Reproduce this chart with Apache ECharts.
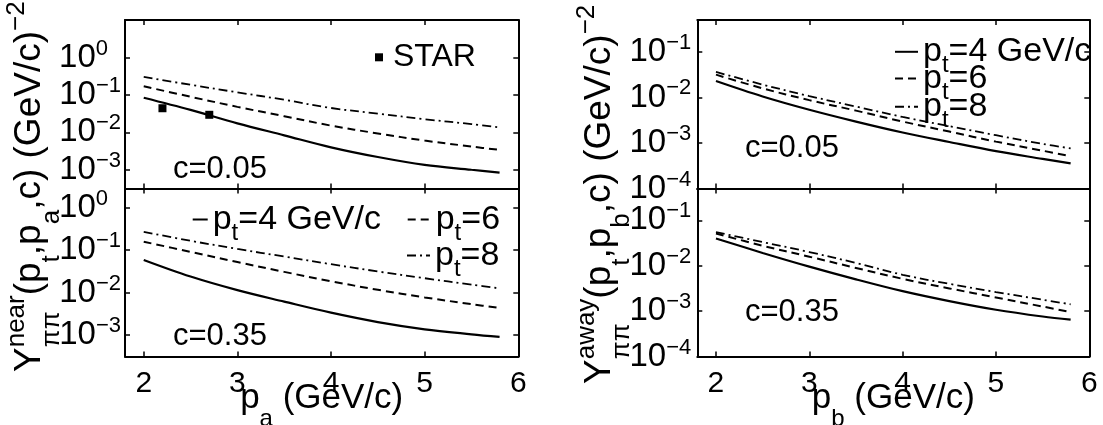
<!DOCTYPE html>
<html>
<head>
<meta charset="utf-8">
<script src="https://cdn.jsdelivr.net/npm/echarts@6/dist/echarts.min.js"></script>
<style>
  html, body { margin: 0; padding: 0; background: #fff; }
  #chart { width: 1103px; height: 425px; }
</style>
</head>
<body>
<div id="chart"></div>
<script>
const FONT = '"Liberation Sans", Arial, Helvetica, sans-serif';

// momentum of the associated particle (GeV/c)
const pX = [2, 2.5, 3, 3.5, 4, 4.5, 5, 5.5, 5.8];

// near side yields, c = 0.05
const nearC05Pt4 = [0.0841, 0.0398, 0.0174, 0.00832, 0.00398, 0.00219, 0.00135, 0.00100, 0.000841];
const nearC05Pt6 = [0.170, 0.0891, 0.0479, 0.0269, 0.0151, 0.00933, 0.00603, 0.00417, 0.00339];
const nearC05Pt8 = [0.302, 0.186, 0.117, 0.0741, 0.0447, 0.0316, 0.0224, 0.0166, 0.0135];
// near side yields, c = 0.35
const nearC35Pt4 = [0.0589, 0.0240, 0.0115, 0.00617, 0.00339, 0.00204, 0.00138, 0.00105, 0.000912];
const nearC35Pt6 = [0.158, 0.0912, 0.0525, 0.0309, 0.0186, 0.0117, 0.00776, 0.00537, 0.00437];
const nearC35Pt8 = [0.269, 0.166, 0.107, 0.0708, 0.0468, 0.0316, 0.0219, 0.0155, 0.0126];
// away side yields, c = 0.05
const awayC05Pt4 = [0.0229, 0.0105, 0.00537, 0.00295, 0.00170, 0.00105, 0.000661, 0.000447, 0.000355];
const awayC05Pt6 = [0.0316, 0.0158, 0.00871, 0.00513, 0.00295, 0.00178, 0.00107, 0.000676, 0.000513];
const awayC05Pt8 = [0.0363, 0.0191, 0.0107, 0.00631, 0.00372, 0.00234, 0.00148, 0.000955, 0.000759];
// away side yields, c = 0.35
const awayC35Pt4 = [0.0398, 0.0191, 0.00955, 0.00501, 0.00275, 0.00166, 0.00107, 0.000759, 0.000646];
const awayC35Pt6 = [0.0513, 0.0275, 0.0158, 0.00891, 0.00513, 0.00316, 0.00200, 0.00126, 0.000955];
const awayC35Pt8 = [0.0550, 0.0331, 0.0200, 0.0115, 0.00631, 0.00398, 0.00263, 0.00178, 0.00141];

// STAR data points (near side, c = 0.05)
const starX = [2.2, 2.7];
const starY = [0.044, 0.0294];

// tick labels
const xTickLabels = [2, 3, 4, 5, 6];
const nearExp = [-3, -2, -1, 0];
const awayExp = [-4, -3, -2, -1];

const curveNames = ['pt4', 'pt6', 'pt8'];
const curveStyles = {
  pt4: { type: 'solid', width: 2.2 },
  pt6: { type: [8, 5], width: 2 },
  pt8: { type: [9, 4, 2, 4], width: 1.8 }
};

const panels = [
  { left: 125, top: 20, width: 393.3, height: 168.5, yMin: -3.5, yMax: 1, exps: nearExp, curves: [nearC05Pt4, nearC05Pt6, nearC05Pt8], xLabels: false, c: 'c=0.05', cx: 173, cy: 169 },
  { left: 125, top: 188.5, width: 393.3, height: 168, yMin: -3.5, yMax: 0.45, exps: nearExp, curves: [nearC35Pt4, nearC35Pt6, nearC35Pt8], xLabels: true, c: 'c=0.35', cx: 173, cy: 336 },
  { left: 697.3, top: 20, width: 392, height: 168.5, yMin: -4, yMax: -0.3, exps: awayExp, curves: [awayC05Pt4, awayC05Pt6, awayC05Pt8], xLabels: false, c: 'c=0.05', cx: 745, cy: 148.5 },
  { left: 697.3, top: 188.5, width: 392, height: 168, yMin: -4, yMax: -0.3, exps: awayExp, curves: [awayC35Pt4, awayC35Pt6, awayC35Pt8], xLabels: true, c: 'c=0.35', cx: 745, cy: 312.5 }
];

// exponent 0 gets right padding so the "10" parts line up
const tickRich = {
  b: { fontSize: 33, fontFamily: FONT, color: '#000', lineHeight: 36 },
  s: { fontSize: 22, fontFamily: FONT, color: '#000', lineHeight: 36, padding: [0, 0, 18, 0] },
  z: { fontSize: 22, fontFamily: FONT, color: '#000', lineHeight: 36, padding: [0, 13, 18, 0] }
};

function yFmt(exps) {
  return function (v) {
    const e = Math.log10(v);
    const r = Math.round(e);
    if (Math.abs(e - r) > 1e-6 || exps.indexOf(r) < 0) return '';
    return r < 0 ? '{b|10}{s|\u2212' + (-r) + '}' : '{b|10}{z|' + r + '}';
  };
}

const tick = { show: true, inside: true, length: 5, lineStyle: { color: '#000', width: 1.5 } };
const line = { show: true, onZero: false, lineStyle: { color: '#000', width: 2 } };

const grids = [], xAxes = [], yAxes = [], series = [];
panels.forEach(function (p, i) {
  grids.push({ left: p.left, top: p.top, width: p.width, height: p.height, containLabel: false, outerBoundsMode: 'none' });
  ['bottom', 'top'].forEach(function (pos, k) {
    xAxes.push({
      type: 'value', gridIndex: i, position: pos, min: 1.8, max: 6,
      axisLine: line, axisTick: tick, splitLine: { show: false },
      axisLabel: {
        show: k === 0 && p.xLabels, margin: 12, fontSize: 30, fontFamily: FONT, color: '#000',
        formatter: function (v) { return xTickLabels.indexOf(v) >= 0 ? String(v) : ''; }
      }
    });
  });
  ['left', 'right'].forEach(function (pos, k) {
    yAxes.push({
      type: 'log', logBase: 10, gridIndex: i, position: pos,
      min: Math.pow(10, p.yMin), max: Math.pow(10, p.yMax),
      axisLine: line, axisTick: tick, splitLine: { show: false }, minorTick: { show: false },
      axisLabel: {
        show: k === 0, margin: i < 2 ? 4 : 6, showMinLabel: true, showMaxLabel: true,
        formatter: yFmt(p.exps), rich: tickRich
      }
    });
  });
  p.curves.forEach(function (ys, j) {
    const nm = curveNames[j];
    series.push({
      type: 'line', name: nm, xAxisIndex: 2 * i, yAxisIndex: 2 * i,
      data: pX.map(function (x, n) { return [x, ys[n]]; }),
      symbol: 'none', smooth: 0.35, silent: true,
      lineStyle: { color: '#000', width: curveStyles[nm].width, type: curveStyles[nm].type },
      itemStyle: { color: '#000' }
    });
  });
});

series.push({
  type: 'scatter', name: 'STAR', xAxisIndex: 0, yAxisIndex: 0,
  data: starX.map(function (x, n) { return [x, starY[n]]; }),
  symbol: 'rect', symbolSize: 8, itemStyle: { color: '#000', opacity: 1 }, silent: true, z: 5
});

const legendRich = {
  b: { fontSize: 34, fontFamily: FONT, color: '#000', lineHeight: 34 },
  s: { fontSize: 24, fontFamily: FONT, color: '#000', lineHeight: 34, padding: [27, 0, 0, 0] },
  st: { fontSize: 32, fontFamily: FONT, color: '#000', lineHeight: 32, padding: [0, 0, 0, 5] }
};
const legendText = {
  pt4: '{b|p}{s|t}{b|=4 GeV/c}',
  pt6: '{b|p}{s|t}{b|=6}',
  pt8: '{b|p}{s|t}{b|=8}',
  STAR: '{st|STAR}'
};
function legendAt(name, left, top, w) {
  return {
    data: [name], left: left, top: top, padding: 0, selectedMode: false,
    itemWidth: w, itemHeight: name === 'STAR' ? 8 : 14,
    icon: name === 'STAR' ? 'rect' : undefined,
    itemStyle: name === 'STAR' ? { color: '#000', opacity: 1 } : { opacity: 0 },
    formatter: function (n) { return legendText[n]; },
    textStyle: { rich: legendRich }
  };
}
const legends = [
  legendAt('STAR', 375, 41.3, 8),
  legendAt('pt4', 191.7, 194, 15),
  legendAt('pt6', 406.7, 194, 23),
  legendAt('pt8', 406, 230, 23),
  legendAt('pt4', 894, 26.3, 23),
  legendAt('pt6', 894, 53, 23),
  legendAt('pt8', 894, 81.3, 23)
];

const titleRich = {
  b: { fontSize: 37, fontFamily: FONT, fill: '#000', lineHeight: 42 },
  sp: { fontSize: 26, fontFamily: FONT, fill: '#000', lineHeight: 42, padding: [0, 0, 25, 0] },
  sb: { fontSize: 26, fontFamily: FONT, fill: '#000', lineHeight: 42, padding: [44, 0, 0, 0] }
};
const xTitleRich = {
  b: { fontSize: 35, fontFamily: FONT, fill: '#000', lineHeight: 40 },
  sb: { fontSize: 24, fontFamily: FONT, fill: '#000', lineHeight: 40, padding: [42, 0, 0, 0] }
};
function yTitle(x, y, side) {
  return {
    type: 'group', x: x, y: y, rotation: Math.PI / 2, silent: true,
    children: [
      { type: 'text', x: 0, y: 0, style: { text: '{b|Y}{sp|' + side + '}{b|(p}{sb|t}{b|,p}{sb|' + (side === 'near' ? 'a' : 'b') + '}{b|,c) (GeV/c)}{sp|\u22122}', rich: titleRich, align: 'left', verticalAlign: 'middle' } },
      { type: 'text', x: 24.7, y: 0, style: { text: '{sb|\u03c0\u03c0}', rich: titleRich, align: 'left', verticalAlign: 'middle' } }
    ]
  };
}
function xTitle(x, sub) {
  return {
    type: 'text', x: x, y: 398, silent: true,
    style: { text: '{b|p}{sb|' + sub + '}{b| (GeV/c)}', rich: xTitleRich, align: 'center', verticalAlign: 'middle' }
  };
}

const graphics = [yTitle(29.4, 372, 'near'), yTitle(599.4, 384, 'away'), xTitle(321.7, 'a'), xTitle(893.3, 'b')];
panels.forEach(function (p) {
  graphics.push({
    type: 'text', x: p.cx, y: p.cy, silent: true, z: 10,
    style: { text: p.c, fontSize: 31, fontFamily: FONT, fill: '#000', align: 'left', verticalAlign: 'middle' }
  });
});

const chart = echarts.init(document.getElementById('chart'));
chart.setOption({
  animation: false,
  backgroundColor: '#fff',
  grid: grids,
  xAxis: xAxes,
  yAxis: yAxes,
  legend: legends,
  series: series,
  graphic: graphics
});
</script>
</body>
</html>
